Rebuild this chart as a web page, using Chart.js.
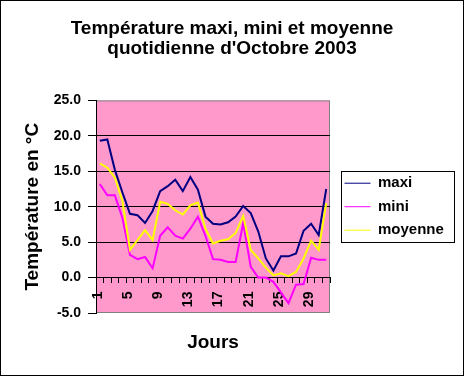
<!DOCTYPE html>
<html>
<head>
<meta charset="utf-8">
<script src="https://cdn.jsdelivr.net/npm/chart.js@4"></script>
<style>
  html, body { margin: 0; padding: 0; background: #fff; }
</style>
</head>
<body>
<canvas id="graphique" width="464" height="376"></canvas>
<script>
// Jours du mois d'octobre 2003
const jours = ['1', '2', '3', '4', '5', '6', '7', '8', '9', '10', '11', '12', '13', '14', '15', '16',
  '17', '18', '19', '20', '21', '22', '23', '24', '25', '26', '27', '28', '29', '30', '31'];

// Températures (°C)
const maxi = [19.3, 19.5, 15.2, 12.0, 9.0, 8.8, 7.7, 9.4, 12.2, 12.9, 13.8, 12.2, 14.2, 12.4, 8.6, 7.6,
  7.5, 7.8, 8.6, 10.1, 9.1, 6.5, 2.7, 1.0, 3.0, 3.0, 3.4, 6.6, 7.6, 6.0, 12.5];
const mini = [13.2, 11.6, 11.6, 8.4, 3.2, 2.6, 2.9, 1.3, 5.9, 7.1, 5.9, 5.5, 6.9, 8.6, 5.9, 2.6,
  2.5, 2.2, 2.2, 7.7, 1.5, 0.0, 0.0, -0.6, -2.1, -3.6, -1.0, -0.9, 2.8, 2.5, 2.5];
const moyenne = [16.1, 15.5, 14.1, 10.8, 3.9, 5.3, 6.7, 5.3, 10.7, 10.4, 9.5, 8.9, 10.2, 10.6, 6.9, 4.8,
  5.2, 5.4, 6.3, 8.7, 3.9, 2.7, 1.4, 0.3, 0.6, 0.2, 0.8, 2.7, 5.2, 3.9, 10.5];

const titre = ['Température maxi, mini et moyenne', "quotidienne d'Octobre 2003"];
const police = 'Liberation Sans, Arial, sans-serif';

Chart.defaults.font.family = police;
Chart.defaults.color = '#000';

// Fond rose de la zone de tracé, cadre du graphique et de la légende
const decorPlugin = {
  id: 'decor',
  beforeDraw(chart) {
    const { ctx, chartArea: a } = chart;
    ctx.save();
    ctx.fillStyle = '#fff';
    ctx.fillRect(0, 0, chart.width, chart.height);
    ctx.fillStyle = '#FF99CC';
    ctx.fillRect(a.left, a.top, a.right - a.left, a.bottom - a.top);
    ctx.strokeStyle = '#808080';
    ctx.lineWidth = 1;
    ctx.strokeRect(a.left + 0.5, a.top + 0.5, a.right - a.left - 1, a.bottom - a.top - 1);
    ctx.restore();
  },
  afterLayout(chart) {
    // titre centré sur toute la largeur, malgré la marge de droite
    chart.titleBlock.left = 0;
    chart.titleBlock.right = chart.width;
    chart.titleBlock.width = chart.width;
    // la légende commence 6 px à droite de la zone de tracé
    const dx = chart.chartArea.right + 6 - chart.legend.left;
    chart.legend.left += dx;
    chart.legend.right += dx;
  },
  afterDraw(chart) {
    const ctx = chart.ctx;
    const hb = chart.legend.legendHitBoxes;
    ctx.save();
    ctx.strokeStyle = '#000';
    ctx.lineWidth = 1;
    if (hb && hb.length) {
      const x0 = Math.min(...hb.map(h => h.left)) - 3.5;
      const x1 = Math.max(...hb.map(h => h.left + h.width)) + 10.5;
      const y0 = Math.min(...hb.map(h => h.top)) - 5;
      const y1 = Math.max(...hb.map(h => h.top + h.height)) + 4;
      ctx.strokeRect(Math.round(x0) + 0.5, Math.round(y0) + 0.5, Math.round(x1 - x0), Math.round(y1 - y0));
    }
    ctx.strokeRect(0.5, 0.5, chart.width - 1, chart.height - 1);
    ctx.restore();
  }
};

const ctx = document.getElementById('graphique').getContext('2d');
new Chart(ctx, {
  type: 'line',
  data: {
    labels: jours,
    datasets: [{
      label: 'maxi',
      data: maxi,
      borderColor: '#000080',
      backgroundColor: '#000080',
      order: 2
    }, {
      label: 'mini',
      data: mini,
      borderColor: '#FF00FF',
      backgroundColor: '#FF00FF',
      order: 1
    }, {
      label: 'moyenne',
      data: moyenne,
      borderColor: '#FFFF00',
      backgroundColor: '#FFFF00',
      order: 0
    }]
  },
  options: {
    responsive: false,
    animation: false,
    devicePixelRatio: 1,
    elements: {
      line: { borderWidth: 2, tension: 0, fill: false },
      point: { radius: 0, hoverRadius: 0 }
    },
    layout: { padding: { left: 0, right: 24, top: 0, bottom: 0 } },
    plugins: {
      tooltip: { enabled: false },
      title: {
        display: true,
        text: titre,
        color: '#000',
        font: { size: 19, weight: 'bold', lineHeight: 1.09 },
        padding: { top: 18, bottom: 41 }
      },
      legend: {
        position: 'right',
        fullSize: false,
        labels: {
          usePointStyle: true,
          pointStyle: 'line',
          pointStyleWidth: 26,
          padding: 8.5,
          color: '#000',
          font: { size: 15, weight: 'bold' },
          sort: (a, b) => a.datasetIndex - b.datasetIndex
        }
      }
    },
    scales: {
      x: {
        type: 'category',
        position: { y: 0 },
        offset: true,
        grid: {
          display: true,
          drawOnChartArea: false,
          drawTicks: true,
          tickLength: 5,
          tickColor: '#000',
          offset: true
        },
        border: { display: true, color: '#000', width: 1 },
        ticks: {
          autoSkip: false,
          minRotation: 90,
          maxRotation: 90,
          padding: 9,
          labelOffset: -2,
          color: '#000',
          font: { size: 14, weight: 'bold' },
          callback: function (val, i) {
            return i % 4 === 0 ? this.getLabelForValue(val) : '';
          }
        }
      },
      x2: {
        type: 'category',
        labels: jours,
        position: 'bottom',
        display: true,
        grid: { display: false },
        border: { display: false },
        ticks: { display: false },
        title: {
          display: true,
          text: 'Jours',
          color: '#000',
          font: { size: 19, weight: 'bold' },
          padding: { top: 0, bottom: 22 }
        },
        afterFit(scale) { scale.height = 63; }
      },
      y: {
        position: 'left',
        min: -5,
        max: 25,
        ticks: {
          stepSize: 5,
          padding: 7,
          color: '#000',
          font: { size: 14, weight: 'bold' },
          callback: v => v.toFixed(1)
        },
        grid: {
          color: c => (c.tick && (c.tick.value === 25 || c.tick.value === -5)) ? 'rgba(0,0,0,0)' : '#000',
          tickColor: '#000',
          tickLength: 8
        },
        border: { display: true, color: '#000', width: 1 },
        title: {
          display: true,
          text: 'Température en °C',
          color: '#000',
          font: { size: 19, weight: 'bold' },
          padding: { top: 21, bottom: 0 }
        },
        afterFit(scale) { scale.width = 96; }
      }
    }
  },
  plugins: [decorPlugin]
});
</script>
</body>
</html>
